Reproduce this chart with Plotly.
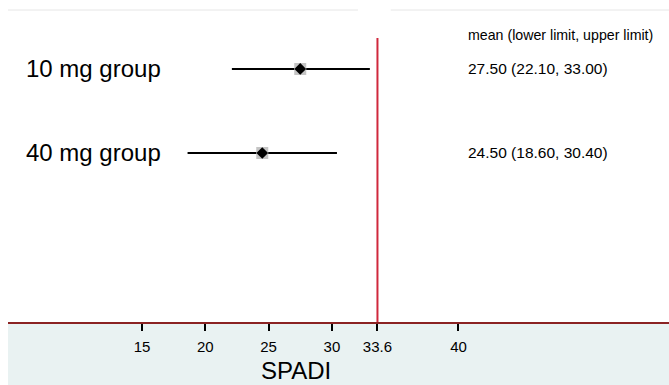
import plotly.graph_objects as go

groups = ["10 mg group", "40 mg group"]
means = [27.50, 24.50]
lower = [22.10, 18.60]
upper = [33.00, 30.40]
ypos = [2, 1]
ref_value = 33.6
tick_vals = [15, 20, 25, 30, 33.6, 40]
tick_text = ["15", "20", "25", "30", "33.6", "40"]
x_title = "SPADI"
header = "mean (lower limit, upper limit)"

FONT = "Liberation Sans, Arial, sans-serif"

fig = go.Figure()

for g, m, lo, hi, y in zip(groups, means, lower, upper, ypos):
    fig.add_trace(go.Scatter(x=[lo, hi], y=[y, y], mode="lines",
                             line=dict(color="black", width=2),
                             showlegend=False, hoverinfo="skip"))

fig.add_trace(go.Scatter(x=means, y=ypos, mode="markers",
                         marker=dict(symbol="square", size=12, color="#c4c4c4"),
                         showlegend=False, hoverinfo="skip"))
fig.add_trace(go.Scatter(x=means, y=ypos, mode="markers",
                         marker=dict(symbol="diamond", size=9, color="black"),
                         showlegend=False))

# reference line
fig.add_shape(type="line", x0=ref_value, x1=ref_value, y0=-1.012, y1=2.369,
              xref="x", yref="y", line=dict(color="#d0283c", width=2))

# bottom band
fig.add_shape(type="rect", xref="paper", yref="paper", x0=0, x1=1, y0=-0.21, y1=0,
              fillcolor="#e9f2f2", line=dict(width=0), layer="below")
# faint top line
fig.add_shape(type="line", xref="paper", yref="paper", x0=0, x1=0.5295, y0=1, y1=1,
              line=dict(color="#e6e6e6", width=1))
fig.add_shape(type="line", xref="paper", yref="paper", x0=0.579, x1=1, y0=1, y1=1,
              line=dict(color="#e6e6e6", width=1))

# group labels
for g, y in zip(groups, ypos):
    fig.add_annotation(x=0.0245, xref="paper", y=y, yref="y", text=g,
                       showarrow=False, xanchor="left", yanchor="middle",
                       font=dict(family=FONT, size=24, color="black"))

# right labels
for m, lo, hi, y in zip(means, lower, upper, ypos):
    fig.add_annotation(x=0.693, xref="paper", y=y, yref="y",
                       text=f"{m:.2f} ({lo:.2f}, {hi:.2f})",
                       showarrow=False, xanchor="left", yanchor="middle",
                       font=dict(family=FONT, size=15.5, color="black"))
fig.add_annotation(x=0.693, xref="paper", y=2.405, yref="y", text=header,
                   showarrow=False, xanchor="left", yanchor="middle",
                   font=dict(family=FONT, size=14.2, color="black"))

fig.add_annotation(x=27.16, xref="x", y=-0.154, yref="paper", text=x_title,
                   showarrow=False, xanchor="center", yanchor="middle",
                   font=dict(family=FONT, size=24, color="black"))

fig.update_layout(
    width=669, height=385,
    margin=dict(l=8, r=0, t=10, b=63),
    paper_bgcolor="white", plot_bgcolor="white",
    xaxis=dict(range=[4.415, 56.63], tickvals=tick_vals, ticktext=tick_text,
               ticks="outside", ticklen=7, tickcolor="black", tickwidth=1.5,
               ticklabelstandoff=3,
               showline=True, linecolor="#8b2323", linewidth=2,
               showgrid=False, zeroline=False,
               tickfont=dict(family=FONT, size=15, color="black")),
    yaxis=dict(range=[-1.012, 2.702], visible=False, showgrid=False, zeroline=False),
)

fig.write_html("out.html", default_width="669px", default_height="385px",
               config={"displayModeBar": False},
               post_script="document.body.style.margin='0';document.documentElement.style.overflow='hidden';document.body.style.overflow='hidden';")
